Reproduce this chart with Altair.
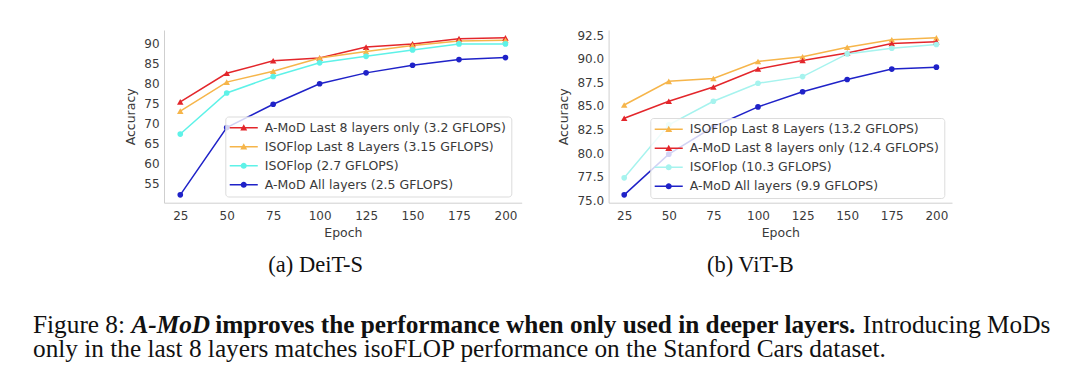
import altair as alt
import pandas as pd

epochs = [25, 50, 75, 100, 125, 150, 175, 200]

# (a) DeiT-S
deit_names = [
    "A-MoD Last 8 layers only (3.2 GFLOPS)",
    "ISOFlop Last 8 Layers (3.15 GFLOPS)",
    "ISOFlop (2.7 GFLOPS)",
    "A-MoD All layers (2.5 GFLOPS)",
]
deit_amod_last8 = [75.4, 82.5, 85.6, 86.3, 89.0, 89.8, 91.1, 91.3]
deit_iso_last8 = [73.1, 80.3, 83.0, 86.3, 87.9, 89.4, 90.5, 90.7]
deit_iso = [67.4, 77.6, 81.7, 85.1, 86.7, 88.3, 89.8, 89.8]
deit_amod_all = [52.3, 69.0, 74.8, 79.9, 82.6, 84.5, 85.9, 86.4]
deit_yticks = [55, 60, 65, 70, 75, 80, 85, 90]

# (b) ViT-B
vit_names = [
    "ISOFlop Last 8 Layers (13.2 GFLOPS)",
    "A-MoD Last 8 layers only (12.4 GFLOPS)",
    "ISOFlop (10.3 GFLOPS)",
    "A-MoD All layers (9.9 GFLOPS)",
]
vit_iso_last8 = [85.1, 87.6, 87.9, 89.7, 90.2, 91.2, 92.0, 92.2]
vit_amod_last8 = [83.7, 85.5, 87.0, 88.9, 89.8, 90.6, 91.6, 91.8]
vit_iso = [77.4, 83.0, 85.5, 87.4, 88.1, 90.5, 91.1, 91.5]
vit_amod_all = [75.6, 79.9, 82.8, 84.9, 86.5, 87.8, 88.9, 89.1]
vit_yticks = [75.0, 77.5, 80.0, 82.5, 85.0, 87.5, 90.0, 92.5]

sub_captions = ["(a) DeiT-S", "(b) ViT-B"]
caption_line1 = ["Figure 8:", "A-MoD", "improves the performance when only used in deeper layers.", "Introducing MoDs"]
caption_line2 = ["only in the last 8 layers matches isoFLOP performance on the Stanford Cars dataset."]

RED = "#e3262b"
ORANGE = "#f6b54a"
CYAN_A = "#5ef2e8"
CYAN_B = "#a6f3ee"
BLUE = "#1f22c8"
TXT = "#3a3a3a"

# legend symbols: short line + marker (unit coords)
TRI_PATH = "M-1.2,-0.13 L3.72,-0.13 L3.72,0.13 L-1.2,0.13 Z M1.26,-0.6 L1.87,0.5 L0.65,0.5 Z"
CIRC_PATH = "M-1.2,-0.13 L3.72,-0.13 L3.72,0.13 L-1.2,0.13 Z M1.79,0 A0.53,0.53 0 1 1 0.73,0 A0.53,0.53 0 1 1 1.79,0 Z"


def text_layer(txt, x, y, size, font, weight="normal", style="normal", align="left", color="#111111"):
    return alt.Chart(pd.DataFrame({"t": [txt]})).mark_text(
        align=align, baseline="alphabetic", font=font, fontSize=size,
        fontWeight=weight, fontStyle=style, color=color,
    ).encode(text="t:N", x=alt.value(x), y=alt.value(y))


def panel(names, vals, colors, markers, width, ydom, yticks, yfmt, lx, ly, extra):
    rows = []
    for name, vs, mk in zip(names, vals, markers):
        for e, v in zip(epochs, vs):
            rows.append({"epoch": e, "acc": v, "series": name, "marker": mk})
    df = pd.DataFrame(rows)
    x = alt.X("epoch:Q", scale=alt.Scale(domain=[16.25, 208.75], nice=False, zero=False),
              axis=alt.Axis(values=epochs, title="Epoch", labelPadding=8, titlePadding=5))
    y = alt.Y("acc:Q", scale=alt.Scale(domain=ydom, nice=False, zero=False),
              axis=alt.Axis(values=yticks, format=yfmt, title="Accuracy", labelPadding=5, titlePadding=6))
    cs = alt.Scale(domain=names, range=colors)
    base = alt.Chart(df).encode(x=x, y=y)
    paths = [TRI_PATH if m == "tri" else CIRC_PATH for m in markers]
    leg = alt.Legend(orient="none", legendX=lx, legendY=ly, title=None,
                     fillColor="rgba(255,255,255,0.8)", strokeColor="#dcdcdc", cornerRadius=3,
                     padding=5, labelFont="DejaVu Sans", labelFontSize=12.5, labelColor=TXT,
                     labelLimit=400, labelOffset=22, symbolSize=130, rowPadding=6,
                     symbolStrokeWidth=0, symbolOpacity=1)
    legend_layer = base.mark_point(filled=True, opacity=0).encode(
        color=alt.Color("series:N", scale=cs, legend=leg),
        shape=alt.Shape("series:N", scale=alt.Scale(domain=names, range=paths), legend=leg))
    lines = base.mark_line(strokeWidth=1.5).encode(
        stroke=alt.Stroke("series:N", scale=cs, legend=None), detail="series:N")
    tri = base.transform_filter("datum.marker == 'tri'").mark_point(
        shape="triangle-up", filled=True, size=42, opacity=1, strokeWidth=0).encode(
        fill=alt.Fill("series:N", scale=cs, legend=None))
    circ = base.transform_filter("datum.marker == 'circ'").mark_point(
        shape="circle", filled=True, size=32, opacity=1, strokeWidth=0).encode(
        fill=alt.Fill("series:N", scale=cs, legend=None))
    return alt.layer(legend_layer, lines, tri, circ, *extra).properties(width=width, height=172.7)


fs = 25.3
left_a = -131
seg_x = [left_a, left_a + 3.889 * fs, left_a + 7.2 * fs, left_a + 32.8 * fs]
extra_a = [
    text_layer(sub_captions[0], 151.7, 241.7, 22.5, "Liberation Serif", align="center"),
    text_layer(caption_line1[0], seg_x[0], 303, fs, "Liberation Serif"),
    text_layer(caption_line1[1], seg_x[1], 303, fs, "Liberation Serif", weight="bold", style="italic"),
    text_layer(caption_line1[2], seg_x[2], 303, fs, "Liberation Serif", weight="bold"),
    text_layer(caption_line1[3], seg_x[3], 303, fs, "Liberation Serif"),
    text_layer(caption_line2[0], seg_x[0], 327.5, fs, "Liberation Serif"),
]
extra_b = [text_layer(sub_captions[1], 141.7, 241.7, 22.5, "Liberation Serif", align="center")]

panel_a = panel(deit_names, [deit_amod_last8, deit_iso_last8, deit_iso, deit_amod_all],
                [RED, ORANGE, CYAN_A, BLUE], ["tri", "tri", "circ", "circ"],
                357.7, [50.35, 93.25], deit_yticks, "d", 61.3, 86.5, extra_a)
panel_b = panel(vit_names, [vit_iso_last8, vit_amod_last8, vit_iso, vit_amod_all],
                [ORANGE, RED, CYAN_B, BLUE], ["tri", "tri", "circ", "circ"],
                343.4, [74.77, 93.03], vit_yticks, ".1f", 41.7, 88, extra_b)

chart = alt.hconcat(panel_a, panel_b, spacing=86.6, bounds="flush").resolve_scale(
    color="independent", shape="independent", fill="independent", stroke="independent"
).properties(
    padding={"left": 25, "top": 21, "right": 5, "bottom": 5}
).configure(background="white").configure_view(stroke=None).configure_axis(
    domainColor="#cfcfcf", domainWidth=1, ticks=False, tickSize=0, grid=False,
    labelFont="DejaVu Sans", labelFontSize=12, labelColor=TXT,
    titleFont="DejaVu Sans", titleFontSize=12.5, titleFontWeight="normal", titleColor=TXT,
)

chart.save("out.html", embed_options={"renderer": "svg", "actions": False})
